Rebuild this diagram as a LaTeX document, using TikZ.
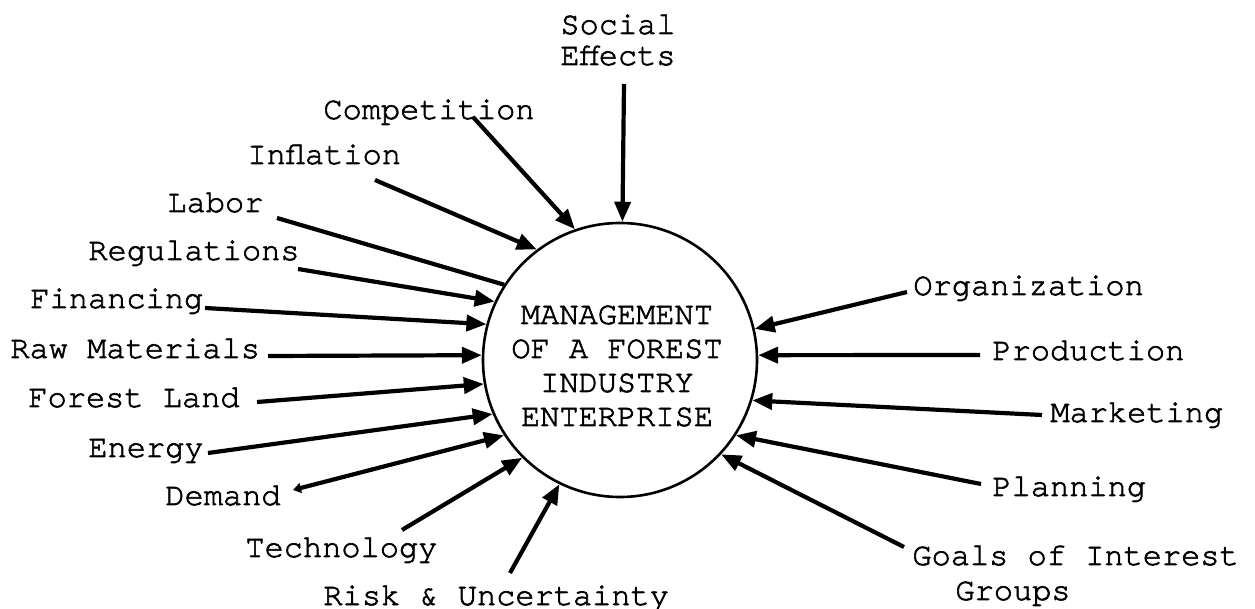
\documentclass[tikz,border=0pt]{standalone}
\usepackage{fontspec}
\newfontfamily\tw[FakeBold=2]{TeX Gyre Cursor}
\usetikzlibrary{arrows.meta}
\begin{document}
\begin{tikzpicture}[x=0.5pt,y=-0.5pt,
  lbl/.style={anchor=base west, inner sep=0pt, font=\tw\fontsize{16}{17}\selectfont},
  arr/.style={line width=2.1pt, -{Triangle[length=10pt,width=8pt]}},
  plainline/.style={line width=2.1pt},
  tailarr/.style={line width=2.1pt, {Triangle[length=4pt,width=5pt]}-{Triangle[length=10pt,width=8pt]}}]
\useasboundingbox[fill=white] (0,0) rectangle (1255,609);
% central circle
\node[circle,draw,line width=1.3pt,minimum size=137pt,inner sep=0pt] (C) at (620,360) {};
\node[align=center,inner sep=0pt,font=\tw\fontsize{16}{17}\selectfont] (T) at (617,366)
  {MANAGEMENT\\OF A FOREST\\INDUSTRY\\ENTERPRISE};
% labels
\node[lbl] (social) at (560,34) {Social};
\node[lbl] (effects) at (560,65) {Effects};
\node[lbl] (competition) at (323,119) {Competition};
\node[lbl] (inflation) at (247,164) {Inflation};
\node[lbl] (labor) at (167,212) {Labor};
\node[lbl] (regulations) at (88,260) {Regulations};
\node[lbl] (financing) at (30,308) {Financing};
\node[lbl] (raw) at (10,358) {Raw Materials};
\node[lbl] (forest) at (28,407) {Forest Land};
\node[lbl] (energy) at (88,457) {Energy};
\node[lbl] (demand) at (165,505) {Demand};
\node[lbl] (technology) at (245,557) {Technology};
\node[lbl] (risk) at (323,605) {Risk \& Uncertainty};
\node[lbl] (organization) at (913,295) {Organization};
\node[lbl] (production) at (992,360) {Production};
\node[lbl] (marketing) at (1050,422) {Marketing};
\node[lbl] (planning) at (992,496) {Planning};
\node[lbl] (goals) at (912,565) {Goals of Interest};
\node[lbl] (groups) at (955,600) {Groups};
% connector start points
\coordinate (sSocial) at (624,84);
\coordinate (sCompetition) at (473,117);
\coordinate (sInflation) at (375,180);
\coordinate (sLabor) at (277,218);
\coordinate (sRegulations) at (298,269);
\coordinate (sFinancing) at (205,308);
\coordinate (sRaw) at (268,356);
\coordinate (sForest) at (257,402);
\coordinate (sEnergy) at (208,453);
\coordinate (sDemand) at (293,490);
\coordinate (sTechnology) at (402,530);
\coordinate (sRisk) at (510,573);
\coordinate (sOrganization) at (907,292);
\coordinate (sProduction) at (980,355);
\coordinate (sMarketing) at (1042,415);
\coordinate (sPlanning) at (981,484);
\coordinate (sGoals) at (904,547);
% connectors
\draw[arr] (sSocial) -- (C.89);
\draw[arr] (sCompetition) -- (C.109);
\draw[arr] (sInflation) -- (C.127);
\draw[plainline] (sLabor) -- (C.147);
\draw[arr] (sRegulations) -- (C.155);
\draw[arr] (sFinancing) -- (C.165.5);
\draw[arr] (sRaw) -- (C.178.3);
\draw[arr] (sForest) -- (C.190.3);
\draw[arr] (sEnergy) -- (C.203.3);
\draw[tailarr] (sDemand) -- (C.213.8);
\draw[arr] (sTechnology) -- (C.225.6);
\draw[arr] (sRisk) -- (C.244.7);
\draw[arr] (sOrganization) -- (C.13.3);
\draw[arr] (sProduction) -- (C.2.5);
\draw[arr] (sMarketing) -- (C.-17.9);
\draw[arr] (sPlanning) -- (C.-33);
\draw[arr] (sGoals) -- (C.-43.8);
\end{tikzpicture}
\end{document}
